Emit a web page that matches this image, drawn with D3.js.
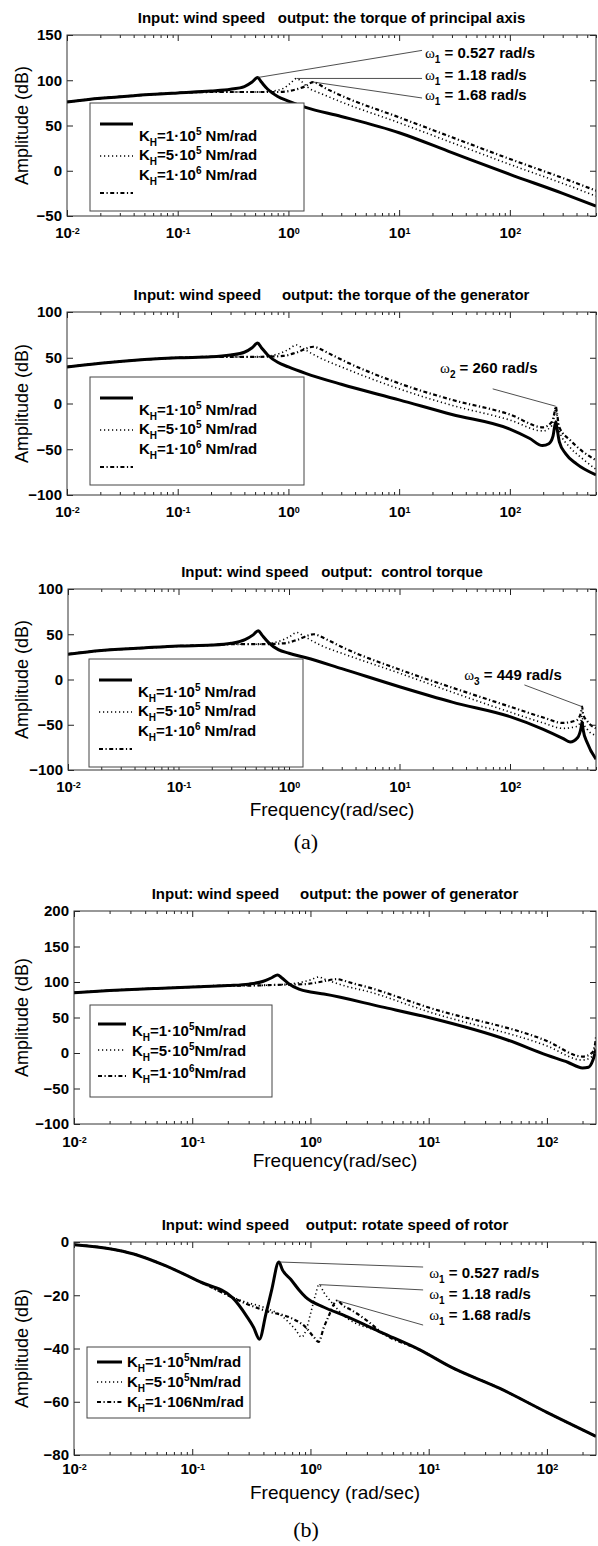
<!DOCTYPE html>
<html>
<head>
<meta charset="utf-8">
<script src="https://cdn.jsdelivr.net/npm/d3@7"></script>
<style>
  body { margin: 0; background: #fff; }
  svg { display: block; }
</style>
</head>
<body>
<div id="chart"></div>
<script>
// ---- data: [frequency rad/s, amplitude dB] ----
const p1Solid = [[0.01,76],[0.02,80],[0.04,83],[0.1,86],[0.2,88],[0.3,90],[0.4,93],[0.47,98],[0.527,103],[0.57,98],[0.65,90],[0.8,82],[1,77],[1.43,70],[3,60],[10,42],[30,20],[100,-4],[300,-25],[600,-39]];
const p1Dot = [[0.01,76],[0.02,80],[0.04,83],[0.1,86],[0.2,87],[0.3,87],[0.5,87],[0.7,88],[0.9,91],[1.05,97],[1.18,102],[1.3,99],[1.5,92],[2,85],[3,76],[10,53],[30,31],[100,7],[300,-14],[600,-28]];
const p1DashDot = [[0.01,76],[0.02,80],[0.04,83],[0.1,86],[0.2,87],[0.3,87],[0.5,87],[0.8,87],[1.1,89],[1.4,93],[1.68,98],[1.85,96],[2.1,92],[3,83],[10,59],[30,37],[100,13],[300,-8],[600,-22]];

const p2Solid = [[0.01,40],[0.02,44],[0.05,48],[0.1,50],[0.2,51],[0.3,53],[0.4,56],[0.47,61],[0.527,66],[0.57,61],[0.65,53],[0.8,45],[1,40],[1.43,33],[3,21],[10,4],[30,-12],[100,-28],[150,-38],[197,-46],[225,-44],[245,-36],[260,-20],[266,-26],[280,-42],[320,-55],[400,-66],[600,-78]];
const p2Dot = [[0.01,40],[0.02,44],[0.05,48],[0.1,50],[0.2,51],[0.3,51],[0.527,51],[0.8,54],[1,59],[1.18,64],[1.32,61],[1.6,55],[2,49],[3,40],[10,16],[30,-2],[100,-18],[200,-30],[240,-24],[255,-10],[260,-4],[266,-12],[280,-30],[350,-48],[450,-60],[600,-72]];
const p2DashDot = [[0.01,40],[0.02,44],[0.05,48],[0.1,50],[0.2,51],[0.3,51],[0.527,51],[0.9,52],[1.2,56],[1.68,62],[1.9,60],[2.3,55],[3,48],[10,22],[30,4],[100,-12],[200,-26],[240,-20],[255,-8],[260,-3],[266,-10],[280,-26],[350,-40],[450,-52],[600,-62]];

const p3Solid = [[0.01,28],[0.02,32],[0.05,35],[0.1,37],[0.2,38],[0.3,40],[0.4,44],[0.47,49],[0.527,54],[0.57,49],[0.65,41],[0.8,33],[1,29],[1.43,24],[3,12],[10,-8],[30,-25],[100,-41],[200,-55],[300,-65],[350,-69],[410,-64],[440,-53],[449,-47],[458,-55],[500,-70],[600,-88]];
const p3Dot = [[0.01,28],[0.02,32],[0.05,35],[0.1,37],[0.2,38],[0.3,39],[0.527,39],[0.8,42],[1,47],[1.18,52],[1.32,49],[1.6,43],[2,37],[3,29],[10,7],[30,-14],[100,-36],[200,-48],[300,-54],[400,-52],[440,-45],[449,-40],[458,-47],[500,-55],[600,-62]];
const p3DashDot = [[0.01,28],[0.02,32],[0.05,35],[0.1,37],[0.2,38],[0.3,39],[0.527,39],[0.9,40],[1.2,44],[1.68,50],[1.9,48],[2.3,43],[3,36],[10,11],[30,-9],[100,-30],[200,-42],[300,-48],[400,-45],[440,-36],[449,-30],[458,-38],[500,-46],[600,-54]];

const p4Solid = [[0.01,85],[0.02,88],[0.05,91],[0.1,93],[0.2,95],[0.3,97],[0.4,101],[0.47,106],[0.527,110],[0.57,106],[0.65,98],[0.8,90],[1,86],[1.3,83],[4,65],[10,50],[47,18],[100,-3],[150,-13],[200,-21],[225,-20],[245,-10],[260,5]];
const p4Dot = [[0.01,85],[0.02,88],[0.05,91],[0.1,93],[0.2,95],[0.3,95],[0.527,96],[0.8,99],[1,103],[1.18,107],[1.32,104],[1.6,99],[2,94],[3,87],[10,58],[100,10],[200,-10],[240,-5],[255,8],[260,18]];
const p4DashDot = [[0.01,85],[0.02,88],[0.05,91],[0.1,93],[0.2,95],[0.3,95],[0.527,96],[0.9,97],[1.2,100],[1.68,104],[1.9,102],[2.3,98],[3,93],[10,64],[100,17],[200,-5],[240,0],[255,12],[260,22]];

const p5Solid = [[0.01,-1],[0.02,-2.5],[0.032,-4.5],[0.06,-9],[0.117,-15],[0.22,-21],[0.29,-28],[0.33,-32],[0.37,-36.5],[0.42,-27],[0.47,-18],[0.54,-7.5],[0.58,-10.5],[0.68,-14],[0.8,-18],[0.91,-20.7],[1.3,-24.5],[1.9,-27.5],[4,-34],[8.5,-40.6],[15.5,-47],[40,-55],[100,-64],[260,-73]];
const p5Dot = [[0.01,-1],[0.02,-2.5],[0.032,-4.5],[0.06,-9],[0.117,-15],[0.2,-20],[0.28,-22.5],[0.4,-24.5],[0.58,-28],[0.75,-33],[0.84,-35.7],[0.92,-33],[1,-27],[1.1,-20],[1.18,-16],[1.3,-19],[1.53,-23],[1.9,-27.5],[4,-34],[8.5,-40.6],[15.5,-47],[40,-55],[100,-64],[260,-73]];
const p5DashDot = [[0.01,-1],[0.02,-2.5],[0.032,-4.5],[0.06,-9],[0.117,-15],[0.2,-20],[0.28,-23],[0.43,-26],[0.68,-28.5],[0.91,-32],[1.08,-36],[1.17,-37.5],[1.3,-32],[1.42,-28],[1.68,-22],[1.9,-24],[2.2,-25.5],[3,-29.5],[4,-34],[8.5,-40.6],[15.5,-47],[40,-55],[100,-64],[260,-73]];

// ticks
const xMajor = [0.01, 0.1, 1, 10, 100];
const xTickExps = ['-2', '-1', '0', '1', '2'];
const yTicks1 = [-50, 0, 50, 100, 150];
const yTicks23 = [-100, -50, 0, 50, 100];
const yTicks4 = [-100, -50, 0, 50, 100, 150, 200];
const yTicks5 = [-80, -60, -40, -20, 0];

// texts
const titles = [
  'Input: wind speed   output: the torque of principal axis',
  'Input: wind speed     output: the torque of the generator',
  'Input: wind speed   output:  control torque',
  'Input: wind speed     output: the power of generator',
  'Input: wind speed    output: rotate speed of rotor'
];
// legend entries: [before sup, sup, after sup]
const legendA = [['=1\u00b710', '5', ' Nm/rad'], ['=5\u00b710', '5', ' Nm/rad'], ['=1\u00b710', '6', ' Nm/rad']];
const legendB = [['=1\u00b710', '5', 'Nm/rad'], ['=5\u00b710', '5', 'Nm/rad'], ['=1\u00b710', '6', 'Nm/rad']];
const legendC = [['=1\u00b710', '5', 'Nm/rad'], ['=5\u00b710', '5', 'Nm/rad'], ['=1\u00b7106Nm/rad', '', '']];

// annotations: line from -> to, label at (data units)
const notes1 = [
  { from: [0.527, 103], to: [16.1, 133], at: [17.1, 124.6], sub: '1', txt: ' = 0.527 rad/s' },
  { from: [1.18, 102], to: [16.1, 102], at: [17.1, 100.3], sub: '1', txt: ' = 1.18 rad/s' },
  { from: [1.68, 98], to: [16.1, 80.4], at: [17.1, 78.2], sub: '1', txt: ' = 1.68 rad/s' }
];
const notes2 = [{ from: [260, -3], to: [70, 16], at: [23.4, 33.3], sub: '2', txt: ' = 260 rad/s' }];
const notes3 = [{ from: [449, -30], to: [135, -6], at: [38.5, -0.6], sub: '3', txt: ' = 449 rad/s' }];
const notes5 = [
  { from: [0.54, -7.5], to: [8.97, -9.4], at: [10.1, -13.5], sub: '1', txt: ' = 0.527 rad/s' },
  { from: [1.18, -16], to: [8.97, -18], at: [10.1, -21.4], sub: '1', txt: ' = 1.18 rad/s' },
  { from: [1.68, -22], to: [8.97, -31.2], at: [10.1, -29.3], sub: '1', txt: ' = 1.68 rad/s' }
];

const FONT = '"Liberation Sans", Arial, Helvetica, sans-serif';
const SERIF = '"Liberation Serif", "Times New Roman", serif';

// line styles: solid, dotted, dash-dot
const styles = [
  { w: 3, dash: null },
  { w: 1.6, dash: '1.2,2.8' },
  { w: 2.2, dash: '4,2.5,1.2,2.5' }
];

// legend layouts (pixel offsets inside box)
const legTall = { w: 214, h: 108, sx: [10, 43], tx: 49, sy: [21, 53, 90], ty: [38, 57, 77] };
const legMid = { w: 182, h: 92, sx: [8, 36], tx: 42, sy: [19, 45, 71], ty: [31, 51, 73] };
const legSmall = { w: 163, h: 71, sx: [10, 35], tx: 40, sy: [15, 35, 55], ty: [20, 40, 60] };

const panels = [
  { title: titles[0], titleY: 23, left: 67, right: 596, top: 35, bottom: 216, xMax: 600, yDom: [-50, 150], yTicks: yTicks1,
    series: [p1Solid, p1Dot, p1DashDot], legend: legendA, leg: legTall, legX: 90, legY: 103, notes: notes1, xPad: 11 },
  { title: titles[1], titleY: 300, left: 67, right: 596, top: 312, bottom: 495, xMax: 600, yDom: [-100, 100], yTicks: yTicks23,
    series: [p2Solid, p2Dot, p2DashDot], legend: legendA, leg: legTall, legX: 90, legY: 377, notes: notes2, xPad: 11 },
  { title: titles[2], titleY: 577, left: 68, right: 596, top: 589, bottom: 770, xMax: 600, yDom: [-100, 100], yTicks: yTicks23,
    series: [p3Solid, p3Dot, p3DashDot], legend: legendA, leg: legTall, legX: 89, legY: 659, notes: notes3, xPad: 11,
    xLabel: 'Frequency(rad/sec)', xLabelY: 816, caption: '(a)', captionY: 849 },
  { title: titles[3], titleY: 899, left: 74, right: 596, top: 911, bottom: 1124, xMax: 260, yDom: [-100, 200], yTicks: yTicks4,
    series: [p4Solid, p4Dot, p4DashDot], legend: legendB, leg: legMid, legX: 90, legY: 1005, notes: [], xPad: 12,
    xLabel: 'Frequency(rad/sec)', xLabelY: 1167 },
  { title: titles[4], titleY: 1230, left: 74, right: 596, top: 1242, bottom: 1455, xMax: 260, yDom: [-80, 0], yTicks: yTicks5,
    series: [p5Solid, p5Dot, p5DashDot], legend: legendC, leg: legSmall, legX: 87, legY: 1347, notes: notes5, xPad: 8,
    xLabel: 'Frequency (rad/sec)', xLabelY: 1499, caption: '(b)', captionY: 1537 }
];

const svg = d3.select('#chart').append('svg')
  .attr('width', 598)
  .attr('height', 1546)
  .attr('font-family', FONT);

const styleAxis = (g) => {
  g.attr('font-family', FONT).attr('font-size', 15).attr('font-weight', 'bold');
  g.select('.domain').remove();
  g.selectAll('.tick line').attr('stroke', '#222').attr('stroke-width', 1);
  g.selectAll('.tick text').attr('fill', '#000');
};

panels.forEach((p, pi) => {
  const x = d3.scaleLog().domain([0.01, p.xMax]).range([p.left, p.right]);
  const y = d3.scaleLinear().domain(p.yDom).range([p.bottom, p.top]);
  const g = svg.append('g');
  const midX = (p.left + p.right) / 2;

  // title
  g.append('text')
    .attr('x', midX).attr('y', p.titleY)
    .attr('text-anchor', 'middle')
    .attr('font-size', 15).attr('font-weight', 'bold')
    .style('white-space', 'pre')
    .text(p.title);

  // clip
  g.append('clipPath').attr('id', 'clip' + pi)
    .append('rect')
    .attr('x', p.left).attr('y', p.top)
    .attr('width', p.right - p.left).attr('height', p.bottom - p.top);

  // curves (dotted and dash-dot below the solid line)
  const line = d3.line()
    .x(d => x(d[0]))
    .y(d => y(d[1]))
    .curve(d3.curveMonotoneX);
  [2, 1, 0].forEach(si => {
    g.append('path')
      .datum(p.series[si])
      .attr('clip-path', `url(#clip${pi})`)
      .attr('fill', 'none')
      .attr('stroke', '#000')
      .attr('stroke-width', styles[si].w)
      .attr('stroke-dasharray', styles[si].dash)
      .attr('stroke-linejoin', 'round')
      .attr('d', line);
  });

  // minor ticks (bottom and top)
  const minor = x.ticks().filter(v => !xMajor.includes(v));
  g.append('g').attr('transform', `translate(0,${p.bottom})`)
    .call(d3.axisBottom(x).tickValues(minor).tickSizeInner(-3).tickSizeOuter(0).tickFormat(''))
    .call(styleAxis);
  g.append('g').attr('transform', `translate(0,${p.top})`)
    .call(d3.axisTop(x).tickValues(minor).tickSizeInner(-3).tickSizeOuter(0).tickFormat(''))
    .call(styleAxis);

  // major x ticks with 10^n labels
  const bx = g.append('g').attr('transform', `translate(0,${p.bottom})`)
    .call(d3.axisBottom(x).tickValues(xMajor).tickSizeInner(-6).tickSizeOuter(0).tickPadding(p.xPad))
    .call(styleAxis);
  bx.selectAll('.tick text').each(function (d, i) {
    const t = d3.select(this);
    t.text('10');
    t.append('tspan').attr('dy', '-0.45em').attr('font-size', 9).text(xTickExps[i]);
  });
  g.append('g').attr('transform', `translate(0,${p.top})`)
    .call(d3.axisTop(x).tickValues(xMajor).tickSizeInner(-6).tickSizeOuter(0).tickFormat(''))
    .call(styleAxis);

  // y ticks left / right
  g.append('g').attr('transform', `translate(${p.left},0)`)
    .call(d3.axisLeft(y).tickValues(p.yTicks).tickSizeInner(-6).tickSizeOuter(0).tickPadding(5))
    .call(styleAxis);
  g.append('g').attr('transform', `translate(${p.right},0)`)
    .call(d3.axisRight(y).tickValues(p.yTicks).tickSizeInner(-6).tickSizeOuter(0).tickFormat(''))
    .call(styleAxis);

  // frame
  g.append('rect')
    .attr('x', p.left).attr('y', p.top)
    .attr('width', p.right - p.left).attr('height', p.bottom - p.top)
    .attr('fill', 'none').attr('stroke', '#333').attr('stroke-width', 1);

  // y label
  g.append('text')
    .attr('transform', `translate(28,${(p.top + p.bottom) / 2}) rotate(-90)`)
    .attr('text-anchor', 'middle')
    .attr('font-size', 18)
    .text('Amplitude (dB)');

  // legend
  const L = p.leg;
  const lg = g.append('g').attr('transform', `translate(${p.legX},${p.legY})`);
  lg.append('rect')
    .attr('width', L.w).attr('height', L.h)
    .attr('fill', '#fff').attr('stroke', '#444').attr('stroke-width', 1);
  p.legend.forEach((e, i) => {
    lg.append('line')
      .attr('x1', L.sx[0]).attr('x2', L.sx[1])
      .attr('y1', L.sy[i]).attr('y2', L.sy[i])
      .attr('stroke', '#000')
      .attr('stroke-width', styles[i].w)
      .attr('stroke-dasharray', styles[i].dash);
    const t = lg.append('text')
      .attr('x', L.tx).attr('y', L.ty[i])
      .attr('font-size', 15).attr('font-weight', 'bold')
      .style('white-space', 'pre');
    t.append('tspan').text('K');
    t.append('tspan').attr('dy', 5).attr('font-size', 10).text('H');
    t.append('tspan').attr('dy', -5).text(e[0]);
    if (e[1]) {
      t.append('tspan').attr('dy', -6).attr('font-size', 10).text(e[1]);
      t.append('tspan').attr('dy', 6).text(e[2]);
    }
  });

  // annotations
  p.notes.forEach(n => {
    g.append('line')
      .attr('x1', x(n.from[0])).attr('y1', y(n.from[1]))
      .attr('x2', x(n.to[0])).attr('y2', y(n.to[1]))
      .attr('stroke', '#222').attr('stroke-width', 0.8);
    const t = g.append('text')
      .attr('x', x(n.at[0])).attr('y', y(n.at[1]))
      .attr('font-size', 15).attr('font-weight', 'bold')
      .style('white-space', 'pre');
    t.append('tspan').attr('font-family', SERIF).attr('font-weight', 'normal').text('\u03c9');
    t.append('tspan').attr('dy', 5).attr('font-size', 10).text(n.sub);
    t.append('tspan').attr('dy', -5).text(n.txt);
  });

  if (p.xLabel) {
    g.append('text')
      .attr('x', midX).attr('y', p.xLabelY)
      .attr('text-anchor', 'middle')
      .attr('font-size', 19)
      .text(p.xLabel);
  }
  if (p.caption) {
    g.append('text')
      .attr('x', 306).attr('y', p.captionY)
      .attr('text-anchor', 'middle')
      .attr('font-family', SERIF)
      .attr('font-size', 22)
      .text(p.caption);
  }
});
</script>
</body>
</html>
